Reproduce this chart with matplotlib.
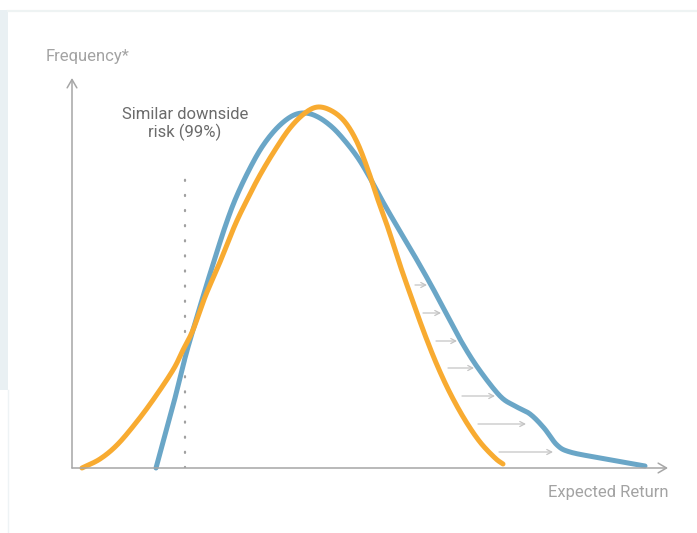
import numpy as np
import matplotlib.pyplot as plt
from matplotlib.patches import Rectangle
from matplotlib.lines import Line2D

plt.rcParams['font.family'] = ['Roboto', 'DejaVu Sans']

# expected return (x) and frequency (y), arbitrary units
orange_x = [10, 28, 45, 63, 81, 101, 111, 121, 133, 148, 163, 175, 188, 203, 218, 233,
            246, 260, 273, 285, 296, 306, 316, 328, 341, 353, 365, 378, 393, 408, 423, 431]
orange_y = [0, 9, 23, 44, 68, 98, 118, 138, 171, 206, 243, 268, 293, 318, 340, 355,
            361, 357, 346, 326, 298, 268, 240, 203, 166, 133, 103, 75, 48, 26, 10, 4]

blue_x = [84, 93, 103, 113, 121, 133, 143, 153, 163, 176, 190, 205, 220, 233, 246, 260,
          273, 286, 298, 311, 326, 342, 359, 374, 389, 406, 428, 443, 458, 472, 485,
          498, 528, 573]
blue_y = [0, 33, 70, 110, 138, 178, 210, 241, 268, 296, 321, 340, 352, 355, 351, 341,
          327, 310, 290, 266, 240, 213, 183, 155, 127, 100, 72, 62, 54, 40, 23,
          16, 10, 2]

# shift arrows between the two curves
shift_y = [183, 155, 127, 100, 72, 44, 16]
shift_x0 = [343, 351, 364, 376, 390, 406, 427]
shift_x1 = [355, 369, 385, 402, 423, 454, 481]

var_x = 113
var_top = 296

x_max, y_max = 596, 390


def smooth(xs, ys, n=20):
    # catmull-rom drawing of the read points so the line has no corners
    p = np.column_stack([xs, ys]).astype(float)
    p = np.vstack([2 * p[0] - p[1], p, 2 * p[-1] - p[-2]])
    t = np.linspace(0, 1, n, endpoint=False)[:, None]
    out = []
    for i in range(1, len(p) - 2):
        p0, p1, p2, p3 = p[i - 1], p[i], p[i + 1], p[i + 2]
        out.append(0.5 * ((2 * p1) + (-p0 + p2) * t + (2 * p0 - 5 * p1 + 4 * p2 - p3) * t ** 2
                          + (-p0 + 3 * p1 - 3 * p2 + p3) * t ** 3))
    out.append(p[-2][None, :])
    out = np.vstack(out)
    return out[:, 0], out[:, 1]


fig = plt.figure(figsize=(6.97, 5.33), dpi=100)
fig.patch.set_facecolor('white')

# page decoration
fig.add_artist(Rectangle((0, 0.268), 8 / 697, 0.713, transform=fig.transFigure,
                         facecolor='#e9f0f3', edgecolor='none'))
fig.add_artist(Line2D([8 / 697, 1], [0.980, 0.980], transform=fig.transFigure,
                      color='#eef3f3', lw=1.6))
fig.add_artist(Line2D([7.5 / 697, 7.5 / 697], [0, 0.268], transform=fig.transFigure,
                      color='#eef3f5', lw=1))

ax = fig.add_axes([72 / 697, 65 / 533, 596 / 697, 390 / 533])
ax.set_xlim(0, x_max)
ax.set_ylim(0, y_max)
ax.axis('off')

axis_col = '#a6a6a6'
ax.annotate('', xy=(x_max, 0), xytext=(0, 0),
            arrowprops=dict(arrowstyle='->,head_length=0.6,head_width=0.35',
                            color=axis_col, lw=1.1, shrinkA=0, shrinkB=0),
            annotation_clip=False)
ax.annotate('', xy=(0, y_max), xytext=(0, 0),
            arrowprops=dict(arrowstyle='->,head_length=0.6,head_width=0.35',
                            color=axis_col, lw=1.1, shrinkA=0, shrinkB=0),
            annotation_clip=False)

ax.plot([var_x, var_x], [0, var_top], color='#a0a0a0', lw=1.6,
        linestyle=(0, (0.5, 6.3)), dash_capstyle='round')

bx, by = smooth(blue_x, blue_y)
ox, oy = smooth(orange_x, orange_y)
ax.plot(bx, by, color='#6aa6c7', lw=3.6, solid_joinstyle='round',
        solid_capstyle='round', clip_on=False)
ax.plot(ox, oy, color='#f8ab31', lw=3.6, solid_joinstyle='round',
        solid_capstyle='round', clip_on=False)

for y, a, b in zip(shift_y, shift_x0, shift_x1):
    ax.annotate('', xy=(b, y), xytext=(a, y),
                arrowprops=dict(arrowstyle='->,head_length=0.35,head_width=0.18',
                                color='#c4c4c4', lw=0.9, shrinkA=0, shrinkB=0))

ax.text(-26, 411, 'Frequency*', color='#a3a3a3', fontsize=12,
        ha='left', va='center', clip_on=False)
ax.text(var_x, 344, 'Similar downside\nrisk (99%)', color='#6b6b6b', fontsize=12,
        ha='center', va='center', linespacing=1.2)
ax.text(x_max, -25, 'Expected Return', color='#a3a3a3', fontsize=12,
        ha='right', va='center', clip_on=False)

fig.savefig('out.png', dpi=100)
